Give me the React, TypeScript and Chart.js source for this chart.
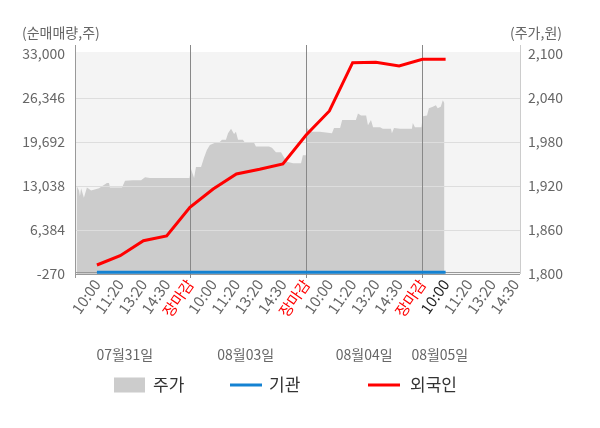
import React, { useEffect, useRef } from "react";
import { Chart, registerables } from "chart.js";

Chart.register(...registerables);

// ---------- data ----------
const TICK_SLOTS = [1, 2, 3, 4, 5, 6, 7, 8, 9, 10, 11, 12, 13, 14, 15, 16, 17, 18, 19];
const TICK_LABELS = [
  "10:00", "11:20", "13:20", "14:30", "장마감",
  "10:00", "11:20", "13:20", "14:30", "장마감",
  "10:00", "11:20", "13:20", "14:30", "장마감",
  "10:00", "11:20", "13:20", "14:30",
];
const CURRENT_TICK = 15;
const DAY_CLOSE_SLOTS = [5, 10, 15];
const DATE_LABELS = ["07월31일", "08월03일", "08월04일", "08월05일"];
const DATE_SLOTS = [2.2, 7.4, 12.5, 15.75];

const LEFT_TICKS = [-270, 6384, 13038, 19692, 26346, 33000];
const RIGHT_TICKS = [1800, 1860, 1920, 1980, 2040, 2100];

const FLOW_SLOTS = [1, 2, 3, 4, 5, 6, 7, 8, 9, 10, 11, 12, 13, 14, 15, 16];
const FOREIGN = [1090, 2500, 4770, 5480, 9820, 12590, 14850, 15560, 16370, 20750, 24380, 31690, 31750, 31190, 32200, 32200];
const INSTITUTION = [0, 0, 0, 0, 0, 0, 0, 0, 0, 0, 0, 0, 0, 0, 0, 0];

const PRICE_SLOTS = [
  0.13, 0.23, 0.27, 0.32, 0.44, 0.57, 0.75, 1.09, 1.43, 1.52, 1.56, 2.08, 2.21, 2.55, 2.9, 3.07, 3.28, 4.92, 4.98,
  5.05, 5.18, 5.26, 5.48, 5.61, 5.73, 5.86, 6.08, 6.25, 6.38, 6.55, 6.64, 6.77, 6.9, 6.98, 7.07, 7.28, 7.37, 7.76,
  7.84, 8.4, 8.53, 8.7, 8.92, 9.05, 9.18, 9.44, 9.78, 9.86, 9.99,
  10.04, 10.16, 10.59, 11.11, 11.2, 11.46, 11.55, 12.14, 12.23, 12.36, 12.58, 12.66, 12.79, 12.88, 13.18, 13.3,
  13.65, 13.69, 13.78, 14.04, 14.55, 14.59, 14.68, 14.96,
  15.02, 15.2, 15.28, 15.45, 15.58, 15.66, 15.79, 15.88, 15.95,
];
const PRICE = [
  1920, 1914, 1906, 1917, 1904, 1918, 1914, 1917, 1924, 1924, 1918, 1918, 1927, 1928, 1928, 1932, 1931, 1931, 1931,
  1943, 1931, 1946, 1946, 1959, 1969, 1976, 1979, 1979, 1983, 1983, 1992, 1998, 1991, 1994, 1983, 1983, 1979, 1979,
  1974, 1974, 1972, 1966, 1966, 1959, 1953, 1951, 1951, 1962, 1962,
  1999, 1994, 1994, 1992, 1999, 1999, 2010, 2010, 2019, 2016, 2016, 2003, 2010, 2000, 2000, 1998,
  1998, 1992, 1999, 1998, 1998, 2006, 2000, 2000,
  2015, 2016, 2026, 2028, 2030, 2026, 2028, 2037, 2033,
];

// ---------- styles ----------
const FONT = "'Noto Sans CJK KR', 'Noto Sans', sans-serif";
const GRAY_TEXT = "#666666";
const PRICE_COLOR = "#cccccc";
const INST_COLOR = "#1482d2";
const FOREIGN_COLOR = "#ff0000";

const fmt = (v: number) => String(v).replace(/\B(?=(\d{3})+(?!\d))/g, ",");

const decorPlugin = {
  id: "decor",
  beforeDatasetsDraw(chart: any) {
    const { ctx, chartArea: a } = chart;
    ctx.save();
    ctx.fillStyle = "#f4f4f4";
    ctx.fillRect(a.left, a.top - 2, a.right - a.left, a.bottom - a.top + 2);
    ctx.restore();
  },
  afterDatasetDraw(chart: any, args: any) {
    if (args.index !== 0) return;
    const { ctx, chartArea: a } = chart;
    const y = chart.scales.y;
    const x = chart.scales.x;
    ctx.save();
    ctx.lineWidth = 1;
    ctx.strokeStyle = "#dddddd";
    LEFT_TICKS.slice(1, -1).forEach((v) => {
      const py = Math.round(y.getPixelForValue(v)) + 0.5;
      ctx.beginPath();
      ctx.moveTo(a.left, py);
      ctx.lineTo(a.right, py);
      ctx.stroke();
    });
    ctx.strokeStyle = "#999999";
    [y.getPixelForValue(0), a.bottom].forEach((p) => {
      const py = Math.round(p) + 0.5;
      ctx.beginPath();
      ctx.moveTo(a.left, py);
      ctx.lineTo(a.right, py);
      ctx.stroke();
    });
    ctx.strokeStyle = "#888888";
    DAY_CLOSE_SLOTS.forEach((s) => {
      const px = Math.round(x.getPixelForValue(s)) + 0.5;
      ctx.beginPath();
      ctx.moveTo(px, a.top - 9);
      ctx.lineTo(px, a.bottom + 4);
      ctx.stroke();
    });
    ctx.strokeStyle = "#999999";
    ctx.beginPath();
    ctx.moveTo(Math.round(a.left) - 0.5, a.top - 9);
    ctx.lineTo(Math.round(a.left) - 0.5, a.bottom + 4);
    ctx.stroke();
    ctx.strokeStyle = "#cccccc";
    ctx.beginPath();
    ctx.moveTo(Math.round(a.right) + 0.5, a.top - 9);
    ctx.lineTo(Math.round(a.right) + 0.5, a.bottom);
    ctx.stroke();
    ctx.restore();
  },
  afterDraw(chart: any) {
    const { ctx, chartArea: a } = chart;
    const x = chart.scales.x;
    ctx.save();
    ctx.font = `14px ${FONT}`;
    ctx.fillStyle = GRAY_TEXT;
    ctx.textBaseline = "middle";
    ctx.textAlign = "left";
    ctx.fillText("(순매매량,주)", a.left - 54, a.top - 21);
    ctx.textAlign = "right";
    ctx.fillText("(주가,원)", a.right + 42, a.top - 21);
    ctx.textAlign = "center";
    DATE_LABELS.forEach((d, i) => {
      ctx.fillText(d, x.getPixelForValue(DATE_SLOTS[i]), a.bottom + 81);
    });
    const ly = a.bottom + 111;
    const items = chart.data.datasets;
    const starts = [a.left + 38, a.left + 154, a.left + 292];
    ctx.font = `17px ${FONT}`;
    ctx.textAlign = "left";
    items.forEach((ds: any, i: number) => {
      const sx = starts[i];
      if (i === 0) {
        ctx.fillStyle = ds.backgroundColor;
        ctx.fillRect(sx, ly - 7.5, 31, 15);
      } else {
        ctx.strokeStyle = ds.borderColor;
        ctx.lineWidth = 3;
        ctx.beginPath();
        ctx.moveTo(sx, ly);
        ctx.lineTo(sx + 32, ly);
        ctx.stroke();
      }
      ctx.fillStyle = "#333333";
      ctx.fillText(ds.label, sx + 39 + (i === 2 ? 3 : 0), ly);
    });
    ctx.restore();
  },
};

export default function App() {
  const ref = useRef<HTMLCanvasElement | null>(null);

  useEffect(() => {
    if (!ref.current) return;
    const chart = new Chart(ref.current, {
      type: "line",
      data: {
        datasets: [
          {
            label: "주가",
            data: PRICE_SLOTS.map((s, i) => ({ x: s, y: PRICE[i] })),
            yAxisID: "y1",
            backgroundColor: PRICE_COLOR,
            borderWidth: 0,
            fill: "start",
            pointRadius: 0,
            order: 3,
          },
          {
            label: "기관",
            data: FLOW_SLOTS.map((s, i) => ({ x: s, y: INSTITUTION[i] })),
            yAxisID: "y",
            borderColor: INST_COLOR,
            backgroundColor: INST_COLOR,
            borderWidth: 3,
            pointRadius: 0,
            fill: false,
            order: 2,
          },
          {
            label: "외국인",
            data: FLOW_SLOTS.map((s, i) => ({ x: s, y: FOREIGN[i] })),
            yAxisID: "y",
            borderColor: FOREIGN_COLOR,
            backgroundColor: FOREIGN_COLOR,
            borderWidth: 3,
            pointRadius: 0,
            fill: false,
            order: 1,
          },
        ],
      },
      options: {
        responsive: true,
        maintainAspectRatio: false,
        animation: false,
        layout: { padding: { top: 46, left: 0, right: 0, bottom: 0 } },
        plugins: {
          legend: { display: false },
          tooltip: { enabled: false },
        },
        scales: {
          x: {
            type: "linear",
            min: 0.1,
            max: 19.2,
            grid: { display: false, drawTicks: false },
            border: { display: false },
            afterBuildTicks: (s: any) => {
              s.ticks = TICK_SLOTS.map((v) => ({ value: v }));
            },
            afterFit: (s: any) => {
              s.height = 146;
            },
            ticks: {
              autoSkip: false,
              minRotation: 55,
              maxRotation: 55,
              padding: 2,
              font: { family: FONT, size: 15 },
              color: (c: any) =>
                TICK_LABELS[c.index] === "장마감" ? "#ff0000" : c.index === CURRENT_TICK ? "#222222" : GRAY_TEXT,
              callback: (_v: any, i: number) => TICK_LABELS[i],
            },
          },
          y: {
            position: "left",
            min: -270,
            max: 33000,
            grid: { display: false, drawTicks: false },
            border: { display: false },
            afterBuildTicks: (s: any) => {
              s.ticks = LEFT_TICKS.map((v) => ({ value: v }));
            },
            afterFit: (s: any) => {
              s.width = 68;
            },
            ticks: {
              padding: 11,
              color: GRAY_TEXT,
              font: { family: FONT, size: 14 },
              callback: (v: any) => fmt(v),
            },
          },
          y1: {
            position: "right",
            min: 1800,
            max: 2100,
            grid: { display: false, drawTicks: false },
            border: { display: false },
            afterBuildTicks: (s: any) => {
              s.ticks = RIGHT_TICKS.map((v) => ({ value: v }));
            },
            afterFit: (s: any) => {
              s.width = 72;
            },
            ticks: {
              padding: 8,
              color: GRAY_TEXT,
              font: { family: FONT, size: 14 },
              callback: (v: any) => fmt(v),
            },
          },
        },
      },
      plugins: [decorPlugin],
    });
    return () => chart.destroy();
  }, []);

  return (
    <div style={{ width: 584, height: 412, position: "relative" }}>
      <canvas ref={ref} />
    </div>
  );
}
